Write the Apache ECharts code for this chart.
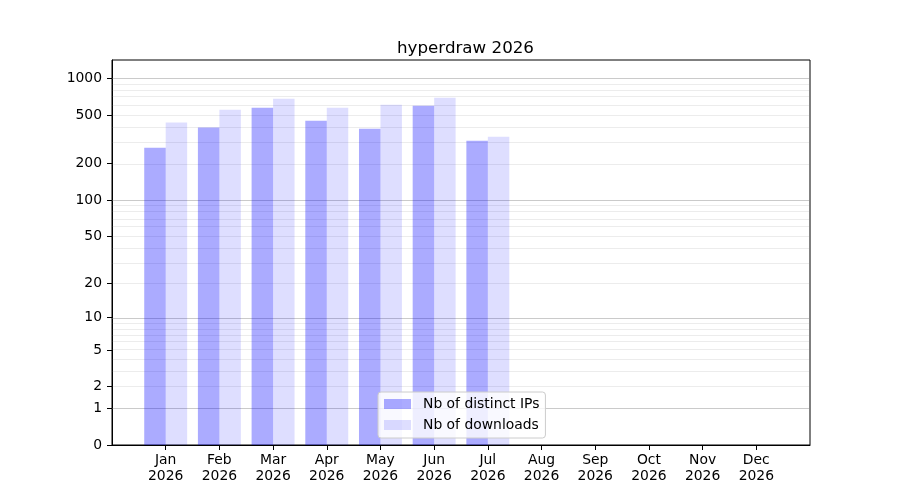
<!DOCTYPE html>
<html>
<head>
<meta charset="utf-8">
<script src="https://cdn.jsdelivr.net/npm/echarts@6/dist/echarts.min.js"></script>
<style>
  html, body { margin: 0; padding: 0; background: #fff; }
  #chart { width: 900px; height: 500px; }
</style>
</head>
<body>
<div id="chart"></div>
<script>
var year = 2026;
var months = ['Jan', 'Feb', 'Mar', 'Apr', 'May', 'Jun', 'Jul', 'Aug', 'Sep', 'Oct', 'Nov', 'Dec'];
var distinctIps = [270, 395, 575, 450, 387, 597, 308, null, null, null, null, null];
var downloads = [434, 554, 682, 575, 609, 694, 332, null, null, null, null, null];
var yTicks = [0, 1, 2, 5, 10, 20, 50, 100, 200, 500, 1000];
var majorGrid = [1, 10, 100, 1000];
var minorGrid = [2, 3, 4, 5, 6, 7, 8, 9, 20, 30, 40, 50, 60, 70, 80, 90, 200, 300, 400, 500, 600, 700, 800, 900];

// y scale is log10(x + 1), so 0 fits on the axis
function tr(v) { return v == null ? null : Math.log10(v + 1); }

var chart = echarts.init(document.getElementById('chart'));

// pad with an empty slot on each side so the months sit like the original
var cats = [''].concat(months.map(function (m) { return m + '\n' + year; }), ['']);
function pad(arr) { return [null].concat(arr.map(tr), [null]); }

var gridLines = majorGrid.map(function (v) {
  return { yAxis: tr(v), lineStyle: { color: 'rgba(128,128,128,0.42)', width: 1, type: 'solid' } };
}).concat(minorGrid.map(function (v) {
  return { yAxis: tr(v), lineStyle: { color: 'rgba(128,128,128,0.15)', width: 1, type: 'solid' } };
}));

var font = 'DejaVu Sans';

var option = {
  backgroundColor: '#ffffff',
  animation: false,
  textStyle: { fontFamily: font },
  title: {
    text: 'hyperdraw ' + year,
    left: 392,
    top: 35,
    textStyle: { fontFamily: font, fontSize: 16.7, fontWeight: 'normal', color: '#000' }
  },
  legend: {
    orient: 'vertical',
    left: 378,
    top: 392,
    padding: [4, 6, 5, 6],
    itemGap: 5,
    itemWidth: 27,
    itemHeight: 10,
    icon: 'rect',
    backgroundColor: 'rgba(255,255,255,0.8)',
    borderColor: '#cccccc',
    borderWidth: 1,
    borderRadius: 3,
    textStyle: { fontFamily: font, fontSize: 13.9, color: '#000', lineHeight: 16, padding: [0, 0, 0, 7] }
  },
  grid: {
    left: 112,
    right: 90,
    top: 60,
    bottom: 55,
    show: true,
    borderColor: '#000',
    borderWidth: 1
  },
  xAxis: {
    type: 'category',
    data: cats,
    boundaryGap: false,
    axisLine: { lineStyle: { color: '#000', width: 1 } },
    axisTick: {
      length: 5,
      interval: function (i) { return i > 0 && i < cats.length - 1; },
      lineStyle: { color: '#000' }
    },
    axisLabel: {
      interval: 0,
      margin: 7,
      fontFamily: font,
      fontSize: 13.9,
      lineHeight: 16,
      color: '#000'
    },
    splitLine: { show: false }
  },
  yAxis: {
    type: 'value',
    min: 0,
    max: 3.1506,
    axisLine: { show: true, lineStyle: { color: '#000', width: 1 } },
    axisTick: {
      show: true,
      length: 5,
      customValues: yTicks.map(tr),
      lineStyle: { color: '#000' }
    },
    axisLabel: {
      margin: 10,
      fontFamily: font,
      fontSize: 13.9,
      color: '#000',
      customValues: yTicks.map(tr),
      formatter: function (v) { return String(Math.round(Math.pow(10, v) - 1)); }
    },
    splitLine: { show: false }
  },
  series: [{
    name: 'Nb of distinct IPs',
    type: 'bar',
    data: pad(distinctIps),
    barWidth: '40%',
    barGap: '0%',
    z: 2,
    itemStyle: { color: 'rgba(0,0,255,0.33)' },
    markLine: {
      silent: true,
      symbol: 'none',
      z: 1,
      label: { show: false },
      emphasis: { disabled: true },
      data: gridLines
    }
  }, {
    name: 'Nb of downloads',
    type: 'bar',
    data: pad(downloads),
    barWidth: '40%',
    barGap: '0%',
    z: 2,
    itemStyle: { color: 'rgba(0,0,255,0.13)' }
  }]
};

chart.setOption(option);
</script>
</body>
</html>
